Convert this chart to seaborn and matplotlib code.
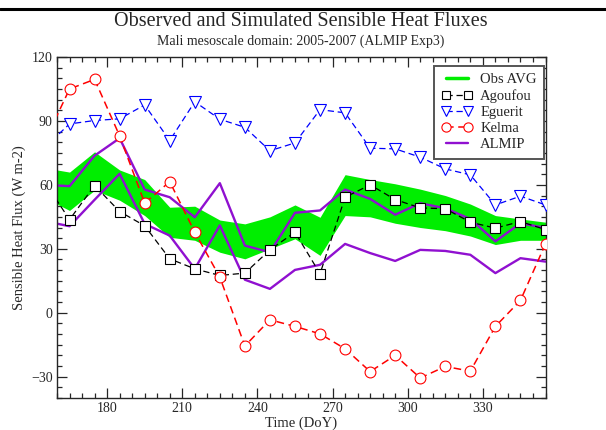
import matplotlib
matplotlib.use('Agg')
import matplotlib.pyplot as plt
from matplotlib.lines import Line2D
from matplotlib.ticker import MultipleLocator
import seaborn as sns

# day of year (10-day steps, first one falls just left of the axis)
doy = [155, 165, 175, 185, 195, 205, 215, 225, 235, 245, 255,
       265, 275, 285, 295, 305, 315, 325, 335, 345, 355]

obs_hi = [68, 66, 75.5, 67, 62.5, 49.5, 50, 43.5, 41.7, 45, 50.6,
          44.8, 64.8, 62.5, 60.5, 58, 55, 51, 45.6, 44, 42.5]
obs_lo = [54, 48, 57.5, 52.8, 45.6, 35.4, 34, 28.4, 25.3, 30, 34.7,
          26.9, 45.6, 45, 42, 40, 38.5, 36, 32, 34, 34]

agoufou = [61.5, 43.7, 59.7, 47.5, 40.8, 25.3, 20.6, 17.5, 18.6, 29.5, 37.8,
           18.3, 54.2, 60, 53.1, 49.2, 48.8, 42.5, 39.7, 42.8, 39]
eguerit = [77.5, 88.6, 90.2, 91, 97.5, 80.8, 99, 90.8, 87, 76, 79.7,
           95.3, 93.8, 77.2, 76.9, 73, 67.5, 64.7, 50.6, 54.7, 50.6]
kelma = [80, 105, 109.5, 83, 51.4, 61.5, 37.8, 16.7, -15.6, -3.3, -6.4,
         -9.9, -16.9, -27.6, -20, -30.6, -25.2, -27.4, -6.4, 5.8, 32.3]
almip_hi = [60, 59.4, 73.7, 81.9, 57.8, 54.2, 44.8, 60.8, 31.5, 28.4, 46.9,
            48, 57.8, 53.4, 46, 51.4, 49, 44, 33.5, 42, 39.8]
almip_lo = [43, 40.6, 53, 65.2, 41.7, 36.2, 20.6, 41, 15.5, 11.2, 20.1,
            22.5, 32.3, 28, 24.3, 29.5, 29, 27.2, 18.6, 25.6, 24]

sns.set_style('ticks')
plt.rcParams['font.family'] = ['Liberation Serif', 'DejaVu Serif']
plt.rcParams['axes.linewidth'] = 1.0

GREEN = '#00ee00'
PURPLE = '#9010d0'
DASH = (0, (5, 3))

# marker styles shared by the plot and the legend
sq = dict(color='black', linestyle=DASH, linewidth=0.9, marker='s',
          markersize=6.5, markerfacecolor='white', markeredgecolor='black',
          markeredgewidth=0.8)
tri = dict(color='blue', linestyle=DASH, linewidth=0.9, marker='v',
           markersize=8, markerfacecolor='white', markeredgecolor='blue',
           markeredgewidth=0.8)
circ = dict(color='red', linestyle=DASH, linewidth=1.1, marker='o',
            markersize=7.8, markerfacecolor='white', markeredgecolor='red',
            markeredgewidth=0.8)

fig = plt.figure(figsize=(6.06, 4.30), dpi=100)
ax = fig.add_axes([57/606, 1-398/430, (545.5-57)/606, (398-57)/430])

ax.fill_between(doy, obs_lo, obs_hi, color=GREEN, linewidth=0, zorder=1)

sns.lineplot(x=doy, y=almip_hi, color=PURPLE, linewidth=1.7, ax=ax, zorder=2)
sns.lineplot(x=doy, y=almip_lo, color=PURPLE, linewidth=1.7, ax=ax, zorder=2)

sns.lineplot(x=doy, y=agoufou, ax=ax, zorder=3, **sq)
sns.lineplot(x=doy, y=eguerit, ax=ax, zorder=3, **tri)
sns.lineplot(x=doy, y=kelma, ax=ax, zorder=4, **circ)

ax.set_xlim(160, 355)
ax.set_ylim(-40, 120)
ax.xaxis.set_minor_locator(MultipleLocator(5))
ax.yaxis.set_minor_locator(MultipleLocator(5))
ax.set_xticks(range(180, 331, 30))
ax.set_yticks(range(-30, 121, 30))
ax.tick_params(which='both', direction='in', top=True, right=True,
               labelsize=10, width=0.9)
ax.tick_params(which='major', length=7, pad=3)
ax.tick_params(which='minor', length=3.5)

ax.set_xlabel('Time (DoY)', fontsize=10.5, labelpad=1)
ax.set_ylabel('Sensible Heat Flux (W m-2)', fontsize=10.5, labelpad=4)

handles = [
    Line2D([], [], color=GREEN, linewidth=2.5),
    Line2D([], [], **sq),
    Line2D([], [], **tri),
    Line2D([], [], **circ),
    Line2D([], [], color=PURPLE, linewidth=1.7),
]
labels = ['Obs AVG', 'Agoufou', 'Eguerit', 'Kelma', 'ALMIP']
leg = ax.legend(handles, labels, loc='upper right',
                bbox_to_anchor=(0.997, 0.974), borderaxespad=0,
                fontsize=10.5, numpoints=2, handlelength=2.1, markerscale=0.85,
                handletextpad=0.55, labelspacing=0.2, borderpad=0.5,
                fancybox=False, framealpha=1)
leg.get_frame().set_edgecolor('#555555')
leg.get_frame().set_linewidth(1.4)

fig.text(0.497, 1-21/430, 'Observed and Simulated Sensible Heat Fluxes',
         ha='center', va='center', fontsize=14.5)
fig.text(0.497, 1-41/430, 'Mali mesoscale domain: 2005-2007 (ALMIP Exp3)',
         ha='center', va='center', fontsize=10)

fig.add_artist(Line2D([0, 1], [1-9/430, 1-9/430], color='black',
                      linewidth=2.2, transform=fig.transFigure))

fig.savefig('out.png', dpi=100)
